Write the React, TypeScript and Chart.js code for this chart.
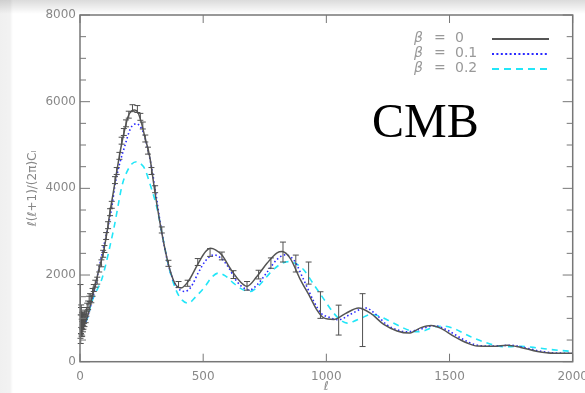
import React, { useEffect, useRef } from 'react';
import { Chart, registerables } from 'chart.js';

Chart.register(...registerables);

// beta = 0 model curve
const ell0 = [2, 5, 10, 20, 30, 45, 60, 80, 94, 110, 121, 135, 148, 160, 175, 195, 210, 222, 235, 250, 263, 283, 303, 330, 358, 385, 410, 439, 480, 510, 530, 550, 576, 610, 650, 678, 718, 759, 800, 820, 854, 894, 935, 962, 990, 1030, 1077, 1131, 1179, 1233, 1287, 1335, 1382, 1425, 1463, 1518, 1572, 1612, 1680, 1734, 1789, 1857, 1924, 2000];
const cl0 = [950, 850, 820, 900, 1040, 1380, 1730, 2200, 2500, 3000, 3430, 3900, 4350, 4750, 5190, 5650, 5790, 5810, 5750, 5500, 5190, 4730, 3960, 3035, 2270, 1810, 1700, 1850, 2270, 2540, 2615, 2580, 2460, 2150, 1850, 1740, 1965, 2270, 2510, 2540, 2380, 1900, 1480, 1190, 1010, 975, 1110, 1240, 1120, 860, 710, 660, 780, 835, 775, 585, 430, 360, 355, 380, 330, 235, 195, 195];

// beta = 0.1 model curve
const ell1 = [2, 5, 10, 20, 30, 45, 60, 73, 90, 114, 130, 141, 160, 181, 205, 229, 250, 263, 290, 310, 330, 358, 385, 410, 425, 450, 480, 510, 542, 570, 600, 637, 665, 691, 720, 760, 800, 833, 870, 908, 949, 980, 1002, 1050, 1100, 1159, 1200, 1246, 1290, 1328, 1380, 1440, 1490, 1558, 1600, 1653, 1700, 1748, 1800, 1870, 1930, 2000];
const cl1 = [950, 850, 820, 890, 1020, 1330, 1680, 2040, 2500, 3120, 3600, 4040, 4550, 4960, 5380, 5490, 5380, 5190, 4500, 3800, 3050, 2250, 1800, 1640, 1620, 1720, 2050, 2330, 2465, 2400, 2200, 1850, 1700, 1660, 1780, 2070, 2360, 2465, 2330, 1890, 1390, 1110, 1045, 970, 1100, 1240, 1100, 850, 730, 690, 750, 830, 730, 505, 400, 360, 365, 380, 330, 240, 200, 195];

// beta = 0.2 model curve
const ell2 = [2, 5, 10, 20, 30, 46, 60, 87, 105, 121, 140, 154, 170, 188, 210, 229, 248, 263, 283, 311, 335, 360, 390, 415, 439, 470, 507, 535, 562, 590, 623, 655, 691, 730, 780, 820, 847, 880, 908, 949, 989, 1030, 1060, 1084, 1110, 1140, 1179, 1210, 1246, 1280, 1314, 1345, 1368, 1400, 1436, 1477, 1520, 1558, 1600, 1653, 1690, 1721, 1760, 1789, 1840, 1897, 1950, 2000];
const cl2 = [950, 860, 830, 880, 1000, 1350, 1550, 1880, 2250, 2650, 3150, 3580, 4050, 4350, 4560, 4615, 4560, 4450, 4120, 3580, 2900, 2200, 1650, 1420, 1350, 1500, 1730, 1950, 2045, 1980, 1815, 1680, 1620, 1780, 2100, 2270, 2310, 2250, 2120, 1780, 1450, 1120, 950, 890, 930, 1000, 1085, 1060, 970, 870, 775, 710, 690, 720, 800, 820, 760, 655, 540, 430, 370, 345, 350, 355, 330, 290, 260, 235];

// measured band powers with 1-sigma errors
const errEll = [2, 3, 4, 5, 6, 7, 8, 9, 10, 11, 12, 13, 14, 16, 18, 20, 23, 26, 29, 33, 37, 41, 46, 51, 56, 62, 70, 78, 87, 94, 99, 106, 114, 122, 129, 142, 149, 160, 169, 178, 187, 198, 213, 233, 245, 255, 265, 276, 290, 305, 332, 359, 400, 437, 478, 528, 576, 623, 678, 725, 775, 824, 876, 928, 976, 1050, 1147];
const errVal = [1160, 750, 950, 1050, 850, 780, 950, 760, 900, 1000, 830, 960, 870, 1000, 920, 1080, 1000, 1150, 1250, 1300, 1420, 1480, 1450, 1600, 1700, 1800, 1870, 2150, 2270, 2490, 2600, 2900, 3150, 3450, 3620, 4190, 4400, 4750, 5100, 5300, 5500, 5700, 5850, 5830, 5650, 5450, 5150, 4870, 4400, 3980, 3040, 2270, 1780, 1810, 2300, 2520, 2440, 2010, 1750, 2010, 2275, 2530, 2265, 2045, 1307, 960, 960];
const errSig = [620, 330, 300, 260, 230, 200, 180, 170, 160, 150, 140, 130, 120, 120, 110, 110, 100, 100, 100, 100, 90, 90, 90, 90, 80, 80, 80, 80, 80, 80, 80, 80, 80, 80, 80, 80, 80, 80, 80, 80, 80, 80, 80, 80, 80, 80, 80, 80, 80, 80, 70, 70, 70, 70, 80, 90, 90, 90, 100, 100, 120, 230, 195, 255, 307, 345, 610];

const betaLabels = ['0', '0.1', '0.2'];
const xTickValues = [0, 500, 1000, 1500, 2000];
const yTickValues = [0, 2000, 4000, 6000, 8000];

const SOLID = '#555555';
const BLUE = '#2a2aff';
const CYAN = '#22e6f8';

const drawPlugin = {
  id: 'cmbDecor',
  afterDatasetsDraw(chart: any) {
    const { ctx, chartArea: a, scales } = chart;
    const x = scales.x;
    const y = scales.y;
    ctx.save();
    // error bars
    ctx.strokeStyle = '#505050';
    ctx.lineWidth = 1;
    for (let i = 0; i < errEll.length; i++) {
      const px = x.getPixelForValue(errEll[i]);
      const y1 = y.getPixelForValue(errVal[i] - errSig[i]);
      const y2 = y.getPixelForValue(errVal[i] + errSig[i]);
      ctx.beginPath();
      ctx.moveTo(px, y1);
      ctx.lineTo(px, y2);
      ctx.moveTo(px - 3, y1);
      ctx.lineTo(px + 3, y1);
      ctx.moveTo(px - 3, y2);
      ctx.lineTo(px + 3, y2);
      ctx.stroke();
    }
    // frame
    ctx.strokeStyle = '#777777';
    ctx.lineWidth = 1.5;
    ctx.strokeRect(a.left, a.top, a.right - a.left, a.bottom - a.top);
    ctx.lineWidth = 1;
    for (let v = 0; v <= 8000; v += 500) {
      const py = y.getPixelForValue(v);
      const len = v % 2000 === 0 ? 10 : 6;
      ctx.beginPath();
      ctx.moveTo(a.left, py);
      ctx.lineTo(a.left + len, py);
      ctx.moveTo(a.right, py);
      ctx.lineTo(a.right - len, py);
      ctx.stroke();
    }
    for (const v of xTickValues) {
      const px = x.getPixelForValue(v);
      ctx.beginPath();
      ctx.moveTo(px, a.bottom);
      ctx.lineTo(px, a.bottom - 8);
      ctx.moveTo(px, a.top);
      ctx.lineTo(px, a.top + 8);
      ctx.stroke();
    }
    // legend
    const colors = [SOLID, BLUE, CYAN];
    const dashes = [[], [2, 2.4], [7, 5]];
    ctx.textBaseline = 'middle';
    for (let i = 0; i < betaLabels.length; i++) {
      const ly = 38.5 + i * 15;
      ctx.fillStyle = '#999999';
      ctx.font = 'italic 14px "DejaVu Sans"';
      ctx.textAlign = 'left';
      ctx.fillText('β', 414, ly);
      ctx.font = '14px "DejaVu Sans"';
      ctx.fillText('=', 434, ly);
      ctx.fillText(betaLabels[i], 455, ly);
      ctx.strokeStyle = colors[i];
      ctx.lineWidth = 2;
      ctx.setLineDash(dashes[i]);
      ctx.beginPath();
      ctx.moveTo(492, ly + 0.5);
      ctx.lineTo(549, ly + 0.5);
      ctx.stroke();
    }
    ctx.setLineDash([]);
    // big label
    ctx.fillStyle = '#000000';
    ctx.font = '48px "Liberation Serif"';
    ctx.textBaseline = 'alphabetic';
    ctx.fillText('CMB', 372, 137);
    ctx.restore();
  },
};

export default function App() {
  const ref = useRef<HTMLCanvasElement>(null);
  useEffect(() => {
    if (!ref.current) return;
    const mk = (xs: number[], ys: number[]) => xs.map((v, i) => ({ x: v, y: ys[i] }));
    const chart = new Chart(ref.current, {
      type: 'line',
      data: {
        datasets: [
          { data: mk(ell0, cl0), borderColor: SOLID, borderWidth: 1.5, pointRadius: 0, cubicInterpolationMode: 'monotone', order: 0 },
          { data: mk(ell1, cl1), borderColor: BLUE, borderWidth: 1.6, borderDash: [1.5, 2.5], pointRadius: 0, cubicInterpolationMode: 'monotone', order: 1 },
          { data: mk(ell2, cl2), borderColor: CYAN, borderWidth: 1.6, borderDash: [6, 5], pointRadius: 0, cubicInterpolationMode: 'monotone', order: 2 },
        ] as any,
      },
      options: {
        animation: false,
        responsive: false,
        maintainAspectRatio: false,
        layout: { padding: { top: 15, right: 12.3, left: 0, bottom: 0 } },
        plugins: { legend: { display: false }, tooltip: { enabled: false } },
        scales: {
          x: {
            type: 'linear',
            min: 0,
            max: 2000,
            afterBuildTicks: (s: any) => { s.ticks = xTickValues.map((v) => ({ value: v })); },
            afterFit: (s: any) => { s.height = 31.3; s.paddingLeft = 0; s.paddingRight = 0; },
            grid: { display: false, drawTicks: false },
            border: { display: false },
            ticks: { color: '#888888', font: { family: 'DejaVu Sans', size: 12 }, padding: 8, maxRotation: 0, callback: (v: any) => String(v) },
            title: { display: true, text: 'ℓ', color: '#888888', font: { family: 'DejaVu Sans', size: 12, style: 'italic', lineHeight: 1 }, padding: { top: 0, bottom: 0 } },
          },
          y: {
            min: 0,
            max: 8000,
            afterBuildTicks: (s: any) => { s.ticks = yTickValues.map((v) => ({ value: v })); },
            afterFit: (s: any) => { s.width = 80; },
            grid: { display: false, drawTicks: false },
            border: { display: false },
            ticks: { color: '#888888', font: { family: 'DejaVu Sans', size: 12 }, padding: 4, callback: (v: any) => String(v) },
            title: { display: true, text: 'ℓ(ℓ+1)/(2π)Cₗ', color: '#888888', font: { family: 'DejaVu Sans', size: 12, lineHeight: 1 }, padding: { top: 27, bottom: 0 } },
          },
        },
      } as any,
      plugins: [drawPlugin],
    });
    return () => chart.destroy();
  }, []);
  return (
    <div
      style={{
        position: 'fixed',
        left: 0,
        top: 0,
        width: 585,
        height: 393,
        background:
          'linear-gradient(to bottom, rgba(0,0,0,0.14) 0px, rgba(0,0,0,0) 14px), linear-gradient(to right, rgba(0,0,0,0.06) 0px, rgba(0,0,0,0.05) 10px, rgba(0,0,0,0) 13px), #ffffff',
      }}
    >
      <canvas ref={ref} width={585} height={393} style={{ display: 'block', width: 585, height: 393 }} />
    </div>
  );
}
